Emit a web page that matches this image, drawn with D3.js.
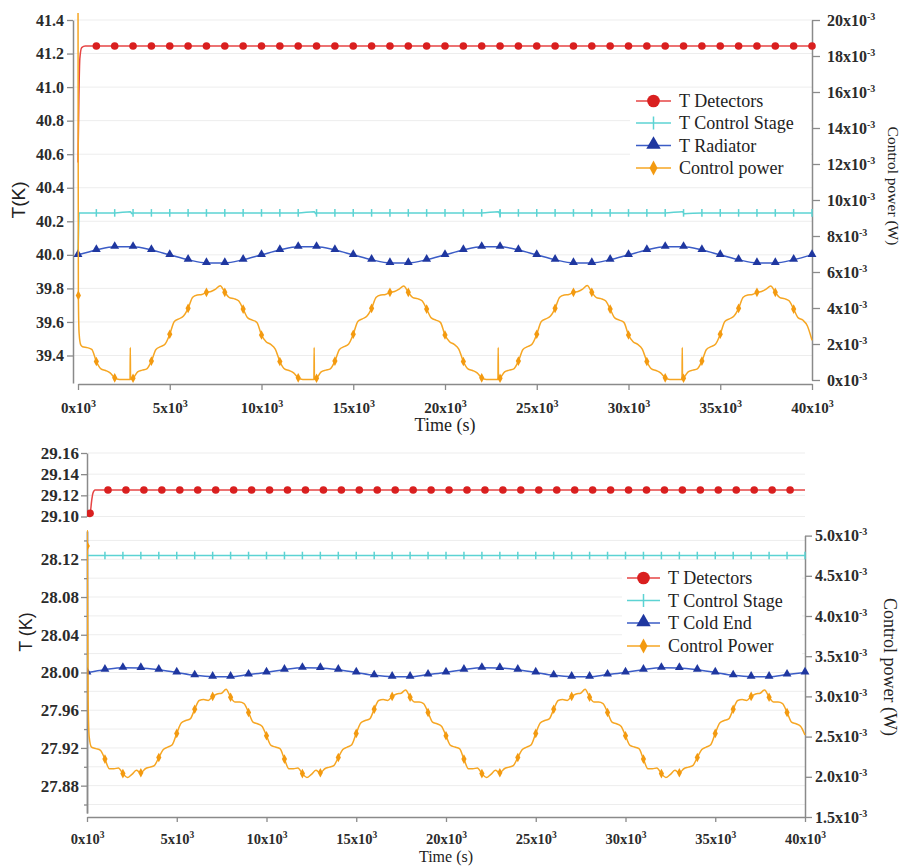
<!DOCTYPE html>
<html>
<head>
<meta charset="utf-8">
<script src="https://cdn.jsdelivr.net/npm/d3@7/dist/d3.min.js"></script>
<style>html,body{margin:0;padding:0;background:#fff;} svg{display:block;}</style>
</head>
<body>
<svg id="chart" width="908" height="866"></svg>
<script>
// ================= DATA =================
const timeTicks = [0, 5000, 10000, 15000, 20000, 25000, 30000, 35000, 40000];
const timeTickLabels = ["0", "5", "10", "15", "20", "25", "30", "35", "40"];

const topLeftTicks = [39.4, 39.6, 39.8, 40.0, 40.2, 40.4, 40.6, 40.8, 41.0, 41.2, 41.4];
const topRightTicks = [0, 2, 4, 6, 8, 10, 12, 14, 16, 18, 20];          // x10^-3 W
const botUpperTicks = [29.10, 29.12, 29.14, 29.16];
const botLowerTicks = [27.88, 27.92, 27.96, 28.00, 28.04, 28.08, 28.12];
const botLowerMinorTicks = [27.86, 27.90, 27.94, 27.98, 28.02, 28.06, 28.10, 28.14];
const botRightTicks = [1.5, 2.0, 2.5, 3.0, 3.5, 4.0, 4.5, 5.0];        // x10^-3 W

const topLegend = ["T Detectors", "T Control Stage", "T Radiator", "Control power"];
const botLegend = ["T Detectors", "T Control Stage", "T Cold End", "Control Power"];

// sample times (s)
const t1000 = d3.range(0, 40001, 1000);
const t250 = d3.range(0, 40001, 250);

// ---- top chart ----
const topDetT = [0, 50, 100, 200, 400].concat(d3.range(1000, 40001, 1000));
const topDetV = [40.55, 40.95, 41.17, 41.235, 41.245,
  41.245, 41.245, 41.245, 41.245, 41.245, 41.245, 41.245, 41.245, 41.245, 41.245,
  41.245, 41.245, 41.245, 41.245, 41.245, 41.245, 41.245, 41.245, 41.245, 41.245,
  41.245, 41.245, 41.245, 41.245, 41.245, 41.245, 41.245, 41.245, 41.245, 41.245,
  41.245, 41.245, 41.245, 41.245, 41.245, 41.245, 41.245, 41.245, 41.245, 41.245];

const topStageT = [0, 30, 60, 2850, 2950, 12870, 12970, 22900, 23000, 32930, 33030].concat(d3.range(1000, 40001, 1000));
const topStageV = [40.00, 40.13, 40.25, 40.257, 40.245, 40.257, 40.245, 40.257, 40.245, 40.257, 40.245,
  40.25, 40.25, 40.25, 40.25, 40.25, 40.25, 40.25, 40.25, 40.25, 40.25,
  40.25, 40.25, 40.25, 40.25, 40.25, 40.25, 40.25, 40.25, 40.25, 40.25,
  40.25, 40.25, 40.25, 40.25, 40.25, 40.25, 40.25, 40.25, 40.25, 40.25,
  40.25, 40.25, 40.25, 40.25, 40.25, 40.25, 40.25, 40.25, 40.25, 40.25];

const topRadV = [
  40.000, 40.029, 40.048, 40.048, 40.029, 40.000, 39.971, 39.952, 39.952, 39.971,
  40.000, 40.029, 40.048, 40.048, 40.029, 40.000, 39.971, 39.952, 39.952, 39.971,
  40.000, 40.029, 40.048, 40.048, 40.029, 40.000, 39.971, 39.952, 39.952, 39.971,
  40.000, 40.029, 40.048, 40.048, 40.029, 40.000, 39.971, 39.952, 39.952, 39.971,
  40.000];

// control power (mW) every 250 s
const topPowerV = [
  22, 1.85, 1.80, 1.70, 1.03, 0.62, 0.53, 0.40, 0.12, 0.03, 0.03, 0.03, 0.10, 0.45, 0.55, 0.62, 1.05, 1.70, 1.85, 2.00,
  2.54, 3.25, 3.40, 3.55, 3.98, 4.60, 4.72, 4.75, 4.87, 4.92, 5.05, 5.24, 4.87, 4.58, 4.52, 4.40, 3.94, 3.45, 3.33, 3.20,
  2.50, 2.12, 1.98, 1.72, 1.03, 0.62, 0.53, 0.40, 0.12, 0.03, 0.03, 0.03, 0.10, 0.45, 0.55, 0.62, 1.05, 1.70, 1.85, 2.00,
  2.54, 3.25, 3.40, 3.55, 3.98, 4.60, 4.72, 4.75, 4.87, 4.92, 5.05, 5.22, 4.87, 4.58, 4.52, 4.40, 3.94, 3.45, 3.33, 3.20,
  2.50, 2.12, 1.98, 1.72, 1.03, 0.62, 0.53, 0.40, 0.12, 0.03, 0.03, 0.03, 0.10, 0.45, 0.55, 0.62, 1.05, 1.70, 1.85, 2.00,
  2.54, 3.25, 3.40, 3.55, 3.98, 4.60, 4.72, 4.75, 4.87, 4.92, 5.05, 5.25, 4.87, 4.58, 4.52, 4.40, 3.94, 3.45, 3.33, 3.20,
  2.50, 2.12, 1.98, 1.72, 1.03, 0.62, 0.53, 0.40, 0.12, 0.03, 0.03, 0.03, 0.10, 0.45, 0.55, 0.62, 1.05, 1.70, 1.85, 2.00,
  2.54, 3.25, 3.40, 3.55, 3.98, 4.60, 4.72, 4.75, 4.87, 4.92, 5.05, 5.22, 4.87, 4.58, 4.52, 4.40, 3.94, 3.45, 3.33, 3.00,
  2.20];
const topPowerExtraT = [20, 60, 150, 2835, 2850, 2865, 12855, 12870, 12885, 22885, 22900, 22915, 32915, 32930, 32945];
const topPowerExtraV = [4.7, 2.6, 1.95, 0.03, 1.8, 0.03, 0.03, 1.8, 0.03, 0.03, 1.8, 0.03, 0.03, 1.8, 0.03];

// ---- bottom chart ----
const botDetT = [0, 170, 260, 330, 450].concat(d3.range(1170, 40000, 1000)).concat([40000]);
const botDetV = [29.103, 29.103, 29.115, 29.122, 29.125,
  29.125, 29.125, 29.125, 29.125, 29.125, 29.125, 29.125, 29.125, 29.125, 29.125,
  29.125, 29.125, 29.125, 29.125, 29.125, 29.125, 29.125, 29.125, 29.125, 29.125,
  29.125, 29.125, 29.125, 29.125, 29.125, 29.125, 29.125, 29.125, 29.125, 29.125,
  29.125, 29.125, 29.125, 29.125, 29.125, 29.125, 29.125, 29.125, 29.125,
  29.125];

const botStageT = [0, 20].concat(d3.range(1000, 40001, 1000));
const botStageV = [28.000, 28.124,
  28.124, 28.124, 28.124, 28.124, 28.124, 28.124, 28.124, 28.124, 28.124, 28.124,
  28.124, 28.124, 28.124, 28.124, 28.124, 28.124, 28.124, 28.124, 28.124, 28.124,
  28.124, 28.124, 28.124, 28.124, 28.124, 28.124, 28.124, 28.124, 28.124, 28.124,
  28.124, 28.124, 28.124, 28.124, 28.124, 28.124, 28.124, 28.124, 28.124, 28.124];

const botColdV = [
  28.0000, 28.0030, 28.0050, 28.0048, 28.0030, 28.0000, 27.9970, 27.9955, 27.9955, 27.9978,
  28.0000, 28.0030, 28.0050, 28.0048, 28.0030, 28.0000, 27.9970, 27.9955, 27.9955, 27.9978,
  28.0000, 28.0030, 28.0050, 28.0048, 28.0030, 28.0000, 27.9970, 27.9955, 27.9955, 27.9978,
  28.0000, 28.0030, 28.0050, 28.0048, 28.0030, 28.0000, 27.9970, 27.9955, 27.9955, 27.9978,
  28.0000];

const botPowerV = [
  5.30, 2.37, 2.35, 2.33, 2.22, 2.10, 2.10, 2.11, 2.04, 1.99, 2.03, 2.08, 2.05, 2.10, 2.12, 2.14, 2.24, 2.34, 2.37, 2.40,
  2.54, 2.67, 2.70, 2.72, 2.84, 2.95, 2.96, 2.95, 3.00, 3.03, 3.04, 3.09, 2.99, 2.93, 2.93, 2.91, 2.80, 2.68, 2.66, 2.63,
  2.51, 2.39, 2.37, 2.35, 2.22, 2.10, 2.10, 2.11, 2.04, 1.99, 2.03, 2.08, 2.05, 2.10, 2.12, 2.14, 2.24, 2.34, 2.37, 2.40,
  2.54, 2.67, 2.70, 2.72, 2.84, 2.95, 2.96, 2.95, 3.00, 3.03, 3.04, 3.08, 2.99, 2.93, 2.93, 2.91, 2.80, 2.68, 2.66, 2.63,
  2.51, 2.39, 2.37, 2.35, 2.22, 2.10, 2.10, 2.11, 2.04, 1.99, 2.03, 2.08, 2.05, 2.10, 2.12, 2.14, 2.24, 2.34, 2.37, 2.40,
  2.54, 2.67, 2.70, 2.72, 2.84, 2.95, 2.96, 2.95, 3.00, 3.03, 3.04, 3.09, 2.99, 2.93, 2.93, 2.91, 2.80, 2.68, 2.66, 2.63,
  2.51, 2.39, 2.37, 2.35, 2.22, 2.10, 2.10, 2.11, 2.04, 1.99, 2.03, 2.08, 2.05, 2.10, 2.12, 2.14, 2.24, 2.34, 2.37, 2.40,
  2.54, 2.67, 2.70, 2.72, 2.84, 2.95, 2.96, 2.95, 3.00, 3.03, 3.04, 3.08, 2.99, 2.93, 2.93, 2.91, 2.80, 2.68, 2.66, 2.63,
  2.52];
const botPowerExtraT = [15, 60, 120];
const botPowerExtraV = [4.87, 3.0, 2.5];

// ================= STYLE =================
const COL = {
  red: "#d91f1f", redLine: "#e64545",
  cyan: "#5cd3d3",
  blue: "#1f37a0", blueLine: "#3b5cc6",
  orange: "#f6a623", orangeMk: "#f39a10",
  axis: "#8a8a8a", grid: "#ededed", text: "#2b2b2b"
};
const SERIF = "'Liberation Serif','Times New Roman',serif";
const SANS = "'Liberation Sans',Arial,sans-serif";

const svg = d3.select("#chart");
svg.append("rect").attr("width", 908).attr("height", 866).attr("fill", "#fff");
const defs = svg.append("defs");

function pairs(ts, vs) {
  return d3.zip(ts, vs).sort((a, b) => a[0] - b[0]);
}
function sci(sel, mant, exp, supSize) {
  sel.text(null);
  sel.append("tspan").text(mant + "x10");
  sel.append("tspan").attr("dy", "-0.6em").attr("font-size", supSize).text(exp);
}
function styleAxis(g, size) {
  g.attr("font-family", SERIF).attr("font-size", size).attr("font-weight", "bold");
  g.select(".domain").attr("stroke", COL.axis).attr("stroke-width", 1.5);
  g.selectAll(".tick line").attr("stroke", COL.axis).attr("stroke-width", 1.3);
  g.selectAll(".tick text").attr("fill", COL.text);
}
function addClip(id, x, y, w, h) {
  defs.append("clipPath").attr("id", id).append("rect").attr("x", x).attr("y", y).attr("width", w).attr("height", h);
}
function drawLine(g, data, x, y, color, w) {
  g.append("path").datum(data)
    .attr("fill", "none").attr("stroke", color).attr("stroke-width", w || 1.5)
    .attr("stroke-linejoin", "round")
    .attr("d", d3.line().x(d => x(d[0])).y(d => y(d[1])).curve(d3.curveMonotoneX));
}
const triPath = d3.symbol(d3.symbolTriangle).size(34)();
const triPathLg = d3.symbol(d3.symbolTriangle).size(90)();
function drawMarkers(g, data, x, y, kind) {
  const s = g.selectAll(null).data(data).enter();
  if (kind === "circle") {
    s.append("circle").attr("cx", d => x(d[0])).attr("cy", d => y(d[1])).attr("r", 3.8).attr("fill", COL.red);
  } else if (kind === "tick") {
    s.append("line").attr("x1", d => x(d[0])).attr("x2", d => x(d[0]))
      .attr("y1", d => y(d[1]) - 3.8).attr("y2", d => y(d[1]) + 3.8)
      .attr("stroke", COL.cyan).attr("stroke-width", 1.5);
  } else if (kind === "tri") {
    s.append("path").attr("d", triPath).attr("transform", d => `translate(${x(d[0])},${y(d[1]) - 0.5})`).attr("fill", COL.blue);
  } else if (kind === "diamond") {
    s.append("path").attr("d", "M0,-4.8L2.6,0L0,4.8L-2.6,0Z")
      .attr("transform", d => `translate(${x(d[0])},${y(d[1])})`).attr("fill", COL.orangeMk);
  }
}
function legend(names, x1, x2, xt, ys, bg) {
  const g = svg.append("g");
  g.append("rect").attr("x", bg[0]).attr("y", bg[1]).attr("width", bg[2]).attr("height", bg[3]).attr("fill", "#fff");
  const xm = (x1 + x2) / 2;
  const cols = [COL.redLine, COL.cyan, COL.blueLine, COL.orange];
  names.forEach((n, i) => {
    const y = ys[i];
    g.append("line").attr("x1", x1).attr("x2", x2).attr("y1", y).attr("y2", y).attr("stroke", cols[i]).attr("stroke-width", 1.5);
    if (i === 0) g.append("circle").attr("cx", xm).attr("cy", y).attr("r", 6.3).attr("fill", COL.red);
    if (i === 1) g.append("line").attr("x1", xm).attr("x2", xm).attr("y1", y - 6.5).attr("y2", y + 6.5).attr("stroke", COL.cyan).attr("stroke-width", 1.5);
    if (i === 2) g.append("path").attr("d", triPathLg).attr("transform", `translate(${xm},${y - 1})`).attr("fill", COL.blue);
    if (i === 3) g.append("path").attr("d", "M0,-7.5L4,0L0,7.5L-4,0Z").attr("transform", `translate(${xm},${y})`).attr("fill", COL.orangeMk);
    g.append("text").attr("x", xt).attr("y", y).attr("dy", "0.35em")
      .attr("font-family", SERIF).attr("font-size", 18).attr("fill", "#222").text(n);
  });
}

// ================= TOP CHART =================
const xT = d3.scaleLinear([0, 40000], [78, 812]);
const yTL = d3.scaleLinear([39.236, 41.4], [383, 20]);
const yTR = d3.scaleLinear([0, 20], [380, 20]);

// grid
svg.append("g").selectAll("line").data(topLeftTicks).enter().append("line")
  .attr("x1", 74).attr("x2", 812).attr("y1", d => yTL(d)).attr("y2", d => yTL(d))
  .attr("stroke", COL.grid).attr("stroke-width", 1);

// axes
const gTL = svg.append("g").attr("transform", "translate(73,0)")
  .call(d3.axisLeft(yTL).tickValues(topLeftTicks).tickSize(6).tickPadding(3).tickSizeOuter(0).tickFormat(d3.format(".1f")));
styleAxis(gTL, 16);
const gTR = svg.append("g").attr("transform", "translate(812,0)")
  .call(d3.axisRight(yTR).tickValues(topRightTicks).tickSize(8).tickPadding(7).tickSizeOuter(0));
styleAxis(gTR, 16);
gTR.selectAll(".tick text").each(function (d) { sci(d3.select(this), d, "-3", 10); });
const gTX = svg.append("g").attr("transform", "translate(0,384)")
  .call(d3.axisBottom(xT).tickValues(timeTicks).tickSize(6).tickSizeOuter(0));
styleAxis(gTX, 15);
gTX.selectAll(".tick text").attr("y", 29).attr("dy", null).each(function (d, i) { sci(d3.select(this), timeTickLabels[i], "3", 10); });

// titles
svg.append("text").attr("transform", "translate(18,200) rotate(-90)").attr("text-anchor", "middle").attr("dy", "0.35em")
  .attr("font-family", SANS).attr("font-size", 19).attr("fill", "#222").text("T(K)");
svg.append("text").attr("transform", "translate(893,186) rotate(90)").attr("text-anchor", "middle").attr("dy", "0.35em")
  .attr("font-family", SERIF).attr("font-size", 15.5).attr("fill", "#222").text("Control power (W)");
svg.append("text").attr("x", 445).attr("y", 431).attr("text-anchor", "middle")
  .attr("font-family", SERIF).attr("font-size", 18).attr("fill", "#222").text("Time (s)");

addClip("clipTop", 73, 13, 745, 372);
const gTop = svg.append("g").attr("clip-path", "url(#clipTop)");

const topDet = pairs(topDetT, topDetV);
drawLine(gTop, topDet, xT, yTL, COL.redLine);
drawMarkers(gTop, topDet.filter(d => d[0] >= 1000 && d[0] % 1000 === 0), xT, yTL, "circle");

const topStage = pairs(topStageT, topStageV);
drawLine(gTop, topStage, xT, yTL, COL.cyan);
drawMarkers(gTop, topStage.filter(d => d[0] >= 1000 && d[0] % 1000 === 0), xT, yTL, "tick");

const topRad = pairs(t1000, topRadV);
drawLine(gTop, topRad, xT, yTL, COL.blueLine);
drawMarkers(gTop, topRad, xT, yTL, "tri");

const topPower = pairs(t250.concat(topPowerExtraT), topPowerV.concat(topPowerExtraV));
drawLine(gTop, topPower, xT, yTR, COL.orange);
drawMarkers(gTop, topPower.filter(d => d[0] === 20 || (d[0] > 0 && d[0] % 1000 === 0 && d[0] < 40000)), xT, yTR, "diamond");

legend(topLegend, 636, 671, 679, [101, 123, 145.5, 168], [630, 88, 181, 93]);

// ================= BOTTOM CHART =================
const xB = d3.scaleLinear([0, 40000], [87, 805]);
const yBU = d3.scaleLinear([29.10, 29.16], [516.5, 453]);
const yBL = d3.scaleLinear([27.851, 28.15], [813, 531]);
const yBR = d3.scaleLinear([1.5, 5.0], [817, 535.6]);

svg.append("g").selectAll("line").data(botUpperTicks.concat(botLowerTicks, botLowerMinorTicks)).enter().append("line")
  .attr("x1", 88).attr("x2", 805)
  .attr("y1", d => d > 29 ? yBU(d) : yBL(d)).attr("y2", d => d > 29 ? yBU(d) : yBL(d))
  .attr("stroke", COL.grid).attr("stroke-width", 1);

const gBU = svg.append("g").attr("transform", "translate(87,0)")
  .call(d3.axisLeft(yBU).tickValues(botUpperTicks).tickSize(6).tickPadding(2).tickSizeOuter(0).tickFormat(d3.format(".2f")));
styleAxis(gBU, 17);
const gBLm = svg.append("g").attr("transform", "translate(87,0)")
  .call(d3.axisLeft(yBL).tickValues(botLowerMinorTicks).tickSize(3).tickSizeOuter(0).tickFormat(""));
styleAxis(gBLm, 17);
const gBL = svg.append("g").attr("transform", "translate(87,0)")
  .call(d3.axisLeft(yBL).tickValues(botLowerTicks).tickSize(6).tickPadding(2).tickSizeOuter(0).tickFormat(d3.format(".2f")));
styleAxis(gBL, 17);
const gBR = svg.append("g").attr("transform", "translate(805,0)")
  .call(d3.axisRight(yBR).tickValues(botRightTicks).tickSize(7).tickPadding(3).tickSizeOuter(0));
styleAxis(gBR, 16);
gBR.selectAll(".tick text").each(function (d) { sci(d3.select(this), d3.format(".1f")(d), "-3", 10); });
const gBX = svg.append("g").attr("transform", "translate(0,817)")
  .call(d3.axisBottom(xB).tickValues(timeTicks).tickSize(5).tickSizeOuter(0));
styleAxis(gBX, 14.5);
gBX.selectAll(".tick text").attr("y", 27).attr("dy", null).each(function (d, i) { sci(d3.select(this), timeTickLabels[i], "3", 9.5); });

svg.append("text").attr("transform", "translate(26,632) rotate(-90)").attr("text-anchor", "middle").attr("dy", "0.35em")
  .attr("font-family", SANS).attr("font-size", 18).attr("fill", "#222").text("T (K)");
svg.append("text").attr("transform", "translate(890,667) rotate(90)").attr("text-anchor", "middle").attr("dy", "0.35em")
  .attr("font-family", SERIF).attr("font-size", 18).attr("fill", "#222").text("Control power (W)");
svg.append("text").attr("x", 446).attr("y", 862).attr("text-anchor", "middle")
  .attr("font-family", SERIF).attr("font-size", 16).attr("fill", "#222").text("Time (s)");

addClip("clipBU", 87, 445, 725, 76);
addClip("clipBL", 87, 530, 725, 290);
const gBUp = svg.append("g").attr("clip-path", "url(#clipBU)");
const gBLo = svg.append("g").attr("clip-path", "url(#clipBL)");

const botDet = pairs(botDetT, botDetV);
drawLine(gBUp, botDet, xB, yBU, COL.redLine);
drawMarkers(gBUp, botDet.filter(d => (d[0] - 170) % 1000 === 0), xB, yBU, "circle");

const botStage = pairs(botStageT, botStageV);
drawLine(gBLo, botStage, xB, yBL, COL.cyan);
drawMarkers(gBLo, botStage.filter(d => d[0] >= 1000 && d[0] % 1000 === 0), xB, yBL, "tick");

const botCold = pairs(t1000, botColdV);
drawLine(gBLo, botCold, xB, yBL, COL.blueLine);
drawMarkers(gBLo, botCold, xB, yBL, "tri");

const botPower = pairs(t250.concat(botPowerExtraT), botPowerV.concat(botPowerExtraV));
drawLine(gBLo, botPower, xB, yBR, COL.orange);
drawMarkers(gBLo, botPower.filter(d => d[0] === 15 || (d[0] > 0 && d[0] % 1000 === 0 && d[0] < 40000)), xB, yBR, "diamond");

legend(botLegend, 627, 660, 668, [578, 600.5, 623, 646], [622, 565, 180, 93]);
</script>
</body>
</html>
